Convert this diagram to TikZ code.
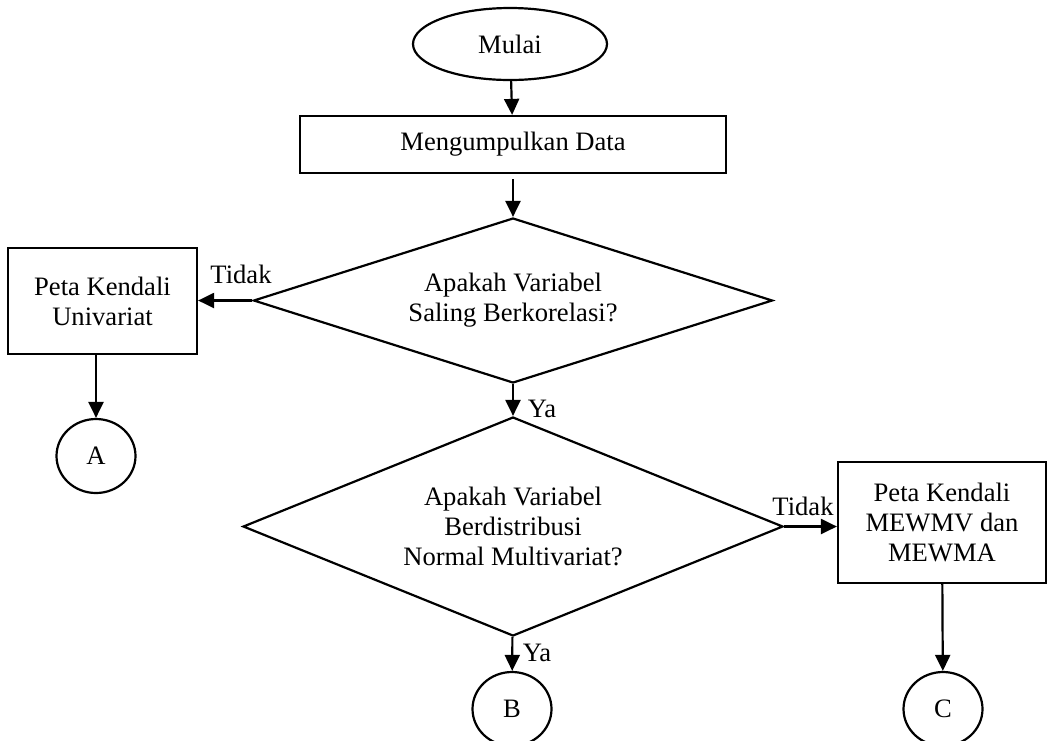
\documentclass[tikz,border=0pt]{standalone}
\usepackage{fontspec}
\setmainfont{Liberation Serif}
\usetikzlibrary{shapes.geometric,arrows.meta}
\begin{document}
\begin{tikzpicture}[x=0.5pt, y=-0.5pt, line width=1.1pt,
            every node/.style={font=\fontsize{13.3}{15}\selectfont, align=center, inner sep=0pt},
            terminal/.style={draw, ellipse, minimum width=97pt, minimum height=36pt},
            proses/.style={draw, rectangle},
            keputusan/.style={draw, diamond},
            konektor/.style={draw, ellipse, minimum width=39.5pt, minimum height=37pt},
            panah/.style={-{Triangle[length=8pt, width=7.5pt]}}]
            \useasboundingbox (0,0) rectangle (1048,740);
            \node[terminal] (mulai) at (510,44) {Mulai};
            \node[proses, minimum width=213pt, minimum height=28.5pt] (data) at (513,144.5) {Mengumpulkan Data};
            \node[keputusan, aspect=3.15, minimum width=259.5pt, minimum height=82.5pt] (cek1) at (513,300.5) {Apakah Variabel\\Saling Berkorelasi?};
            \node[proses, minimum width=94.5pt, minimum height=53pt] (univ) at (102.5,301) {Peta Kendali\\Univariat};
            \node[konektor] (A) at (96,456) {A};
            \node[keputusan, aspect=2.47, minimum width=270pt, minimum height=109.5pt] (cek2) at (513,526.5) {Apakah Variabel\\Berdistribusi\\Normal Multivariat?};
            \node[proses, minimum width=104pt, minimum height=60.5pt] (mewm) at (942,522.5) {Peta Kendali\\MEWMV dan\\MEWMA};
            \node[konektor] (B) at (512,709) {B};
            \node[konektor] (C) at (943,709) {C};
            \node[anchor=base] (tidak1) at (241,283) {Tidak};
            \node[anchor=base] (ya1) at (542,417) {Ya};
            \node[anchor=base] (tidak2) at (803,515) {Tidak};
            \node[anchor=base] (ya2) at (537,661) {Ya};
            \draw[panah] (mulai) -- (data);
            \draw[panah, shorten <=2.5pt] (data) -- (cek1);
            \draw[panah] (cek1.west) -- (cek1.west -| univ.east);
            \draw[panah] (univ.south -| A) -- (A);
            \draw[panah] (cek1) -- (cek2);
            \draw[panah] (cek2.east) -- (cek2.east -| mewm.west);
            \draw[panah] (mewm) -- (C);
            \draw[panah] (cek2) -- (B);
        \end{tikzpicture}
\end{document}
